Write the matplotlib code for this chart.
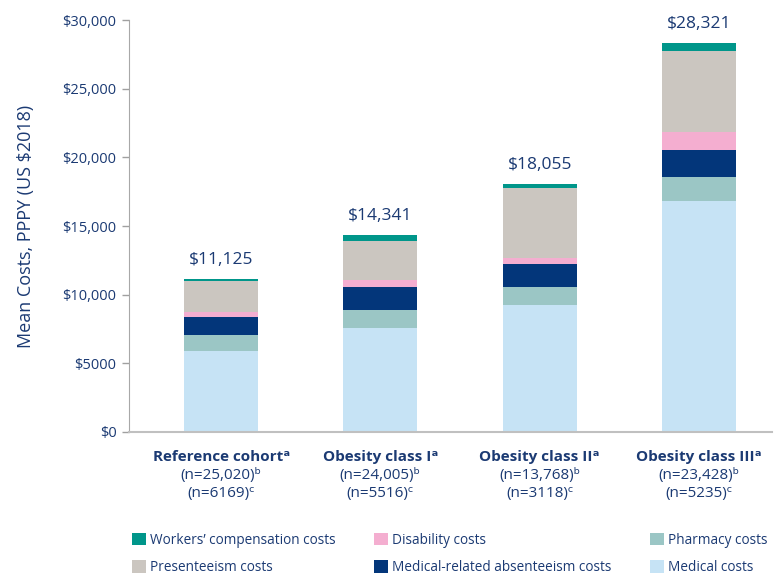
import matplotlib
matplotlib.use("Agg")
import matplotlib.pyplot as plt
from matplotlib.patches import Patch
from matplotlib.transforms import blended_transform_factory
import numpy as np

plt.rcParams['font.family'] = ['Open Sans', 'DejaVu Sans']

categories = ["Reference cohort", "Obesity class I", "Obesity class II", "Obesity class III"]
n_b = ["(n=25,020)", "(n=24,005)", "(n=13,768)", "(n=23,428)"]
n_c = ["(n=6169)", "(n=5516)", "(n=3118)", "(n=5235)"]
totals = [11125, 14341, 18055, 28321]
total_labels = ["$11,125", "$14,341", "$18,055", "$28,321"]

medical = [5880, 7550, 9220, 16850]
pharmacy = [1160, 1300, 1310, 1740]
absenteeism = [1310, 1740, 1670, 1960]
disability = [385, 490, 486, 1310]
presenteeism = [2250, 2830, 5080, 5880]
workers = [140, 431, 289, 581]

series = [
    ("Medical costs", medical, "#C6E3F5"),
    ("Pharmacy costs", pharmacy, "#9BC6C5"),
    ("Medical-related absenteeism costs", absenteeism, "#03367A"),
    ("Disability costs", disability, "#F4AED0"),
    ("Presenteeism costs", presenteeism, "#CBC6C0"),
    ("Workers\u2019 compensation costs", workers, "#00968A"),
]

navy = "#1B3A73"
fig = plt.figure(figsize=(7.75, 5.82), dpi=100)
ax = fig.add_axes([129/775, 150/582, (772-129)/775, (432-20)/582])

x = np.arange(len(categories))
bottom = np.zeros(len(categories))
colors = {}
for name, vals, col in series:
    ax.bar(x, vals, 0.465, bottom=bottom, color=col, edgecolor='none')
    bottom += np.array(vals)
    colors[name] = col

for xi, t, lab in zip(x, bottom, total_labels):
    ax.annotate(lab, (xi, t), xytext=(0, 8), textcoords='offset points',
                ha='center', va='bottom', fontsize=12.5, color=navy)

ax.set_xlim(-0.579, 3.459)
ax.set_ylim(0, 30000)
ax.set_yticks([0, 5000, 10000, 15000, 20000, 25000, 30000])
ax.set_yticklabels(["$0", "$5000", "$10,000", "$15,000", "$20,000", "$25,000", "$30,000"])
ax.tick_params(axis='y', colors="#A0A0A0", labelcolor=navy, labelsize=10.5, length=5, width=1, pad=4)
ax.set_xticks([])
for s in ['top', 'right']:
    ax.spines[s].set_visible(False)
ax.spines['left'].set_color("#A8A8A8")
ax.spines['bottom'].set_color("#C0C0C0")
ax.spines['bottom'].set_linewidth(1.5)
ax.set_ylabel("Mean Costs, PPPY (US $2018)", fontsize=13, color=navy, labelpad=20)

trans = blended_transform_factory(ax.transData, fig.transFigure)
for xi, c, b, cc in zip(x, categories, n_b, n_c):
    ax.text(xi, 1 - 457/582, c + "\u1d43", transform=trans, ha='center', va='center',
            fontsize=11, fontweight='bold', color=navy)
    ax.text(xi, 1 - 476/582, b + "\u1d47", transform=trans, ha='center', va='center',
            fontsize=11, color=navy)
    ax.text(xi, 1 - 494/582, cc + "\u1d9c", transform=trans, ha='center', va='center',
            fontsize=11, color=navy)

order = ["Workers\u2019 compensation costs", "Presenteeism costs", "Disability costs",
         "Medical-related absenteeism costs", "Pharmacy costs", "Medical costs"]
handles = [Patch(facecolor=colors[n], edgecolor='none', label=n) for n in order]
fig.legend(handles=handles, ncol=3, loc='center left', bbox_to_anchor=(120/775, 1 - 554/582),
           frameon=False, fontsize=9.8, handlelength=1.0, handleheight=1.0, handletextpad=0.3,
           columnspacing=2.85, labelspacing=0.9, labelcolor=navy)

fig.savefig("out.png", dpi=100)
